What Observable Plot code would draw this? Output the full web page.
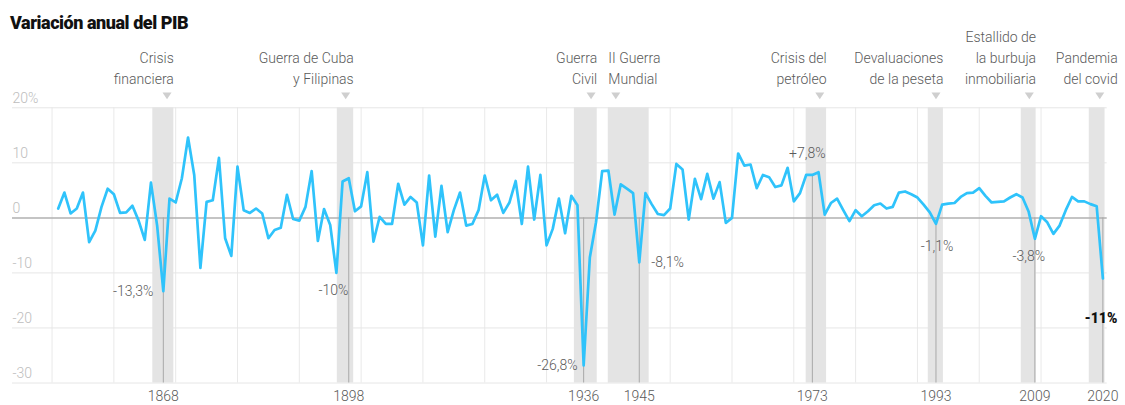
<!DOCTYPE html>
<html>
<head>
<meta charset="utf-8">
<script src="https://cdn.jsdelivr.net/npm/d3@7"></script>
<script src="https://cdn.jsdelivr.net/npm/@observablehq/plot@0.6"></script>
<style>
  html, body { margin: 0; padding: 0; background: #fff; }
  #wrap { position: relative; width: 1125px; height: 405px; overflow: hidden; }
  #title { position: absolute; left: 10px; top: 14px; font: 900 18px/1 Roboto, sans-serif; color: #111; letter-spacing: -0.45px; }
  #chart svg { display: block; }
</style>
</head>
<body>
<div id="wrap">
  <div id="chart"></div>
  <div id="title">Variación anual del PIB</div>
</div>
<script>
// ---- Data ----
const firstYear = 1851;
const growth = [
  1.7, 4.6, 0.8, 1.7, 4.6, -4.4, -2.3, 2.0, 5.3, 4.3,      // 1851-1860
  0.9, 1.0, 2.2, -0.5, -4.0, 6.4, -1.4, -13.3, 3.5, 2.8,   // 1861-1870
  7.2, 14.6, 7.8, -9.1, 2.9, 3.2, 10.9, -3.7, -6.9, 9.3,   // 1871-1880
  1.4, 0.9, 1.7, 0.8, -3.7, -2.2, -1.8, 4.2, -0.2, -0.5,   // 1881-1890
  2.0, 8.5, -4.2, 1.6, -1.3, -10.0, 6.6, 7.2, 1.2, 2.1,    // 1891-1900
  8.3, -4.3, 0.2, -1.1, -1.1, 6.2, 2.4, 3.8, 2.8, -5.0,    // 1901-1910
  7.7, -3.4, 5.8, -2.6, 1.4, 4.6, -1.4, -1.1, 1.4, 7.7,    // 1911-1920
  3.2, 4.2, 0.9, 2.8, 6.7, -1.1, 9.3, -0.3, 7.8, -5.0,     // 1921-1930
  -2.0, 3.5, -2.8, 4.0, 2.3, -26.8, -7.2, -0.8, 8.5, 8.6,  // 1931-1940
  0.6, 6.1, 5.3, 4.5, -8.1, 4.5, 2.5, 0.7, 0.5, 1.7,       // 1941-1950
  9.8, 8.8, -0.3, 7.1, 3.4, 8.0, 3.5, 6.5, -0.9, 0.0,      // 1951-1960
  11.7, 9.5, 9.7, 5.4, 7.8, 7.4, 5.6, 5.9, 9.1, 3.0,       // 1961-1970
  4.5, 7.8, 7.8, 8.3, 0.6, 2.7, 3.5, 1.4, -0.6, 1.4,       // 1971-1980
  0.3, 1.2, 2.3, 2.6, 1.7, 2.0, 4.6, 4.8, 4.3, 3.7,        // 1981-1990
  2.4, 1.0, -1.1, 2.4, 2.6, 2.7, 3.8, 4.5, 4.6, 5.4,       // 1991-2000
  4.0, 2.8, 2.9, 3.0, 3.7, 4.3, 3.7, 1.1, -3.8, 0.3,       // 2001-2010
  -0.8, -2.9, -1.4, 1.4, 3.8, 3.0, 3.0, 2.5, 2.1, -11.0    // 2011-2020
];

const tickYears = [1868, 1898, 1936, 1945, 1973, 1993, 2009, 2020];
const yTicks = [20, 10, 0, -10, -20, -30];
const yTickLabels = ["20%", "10", "0", "-10", "-20", "-30"];
const gridYears = [1850, 1860, 1870, 1880, 1890, 1900, 1910, 1920, 1930, 1940, 1950, 1960, 1970, 1980, 1990, 2000, 2010];

const eventNames = ["Crisis\nfinanciera", "Guerra de Cuba\ny Filipinas", "Guerra\nCivil", "II Guerra\nMundial",
  "Crisis del\npetróleo", "Devaluaciones\nde la peseta", "Estallido de\nla burbuja\ninmobiliaria", "Pandemia\ndel covid"];
const eventStart = [1866.3, 1896.15, 1934.5, 1940.0, 1972.0, 1991.75, 2006.8, 2017.8];
const eventEnd   = [1869.7, 1898.8, 1938.2, 1946.6, 1975.3, 1994.2, 2009.2, 2020.35];
const eventMarker = [1868.6, 1897.5, 1937.2, 1941.2, 1974.2, 1993.0, 2008.1, 2019.5];

const calloutYears = [1868, 1896, 1936, 1945, 1973, 1993, 2009, 2020];
const calloutTexts = ["-13,3%", "-10%", "-26,8%", "-8,1%", "+7,8%", "-1,1%", "-3,8%", "-11%"];

// ---- Derived tables ----
const data = growth.map((v, i) => ({year: firstYear + i, value: v}));
const valueOf = y => growth[y - firstYear];
const events = eventNames.map((name, i) => ({name, x1: eventStart[i], x2: eventEnd[i], marker: eventMarker[i], idx: i}));
const callouts = calloutYears.map((y, i) => ({year: y, value: valueOf(y), text: calloutTexts[i], idx: i}));
const tickRules = tickYears.map(y => ({year: y, top: calloutYears.includes(y) ? Math.max(0, valueOf(y)) : 0}));

// label layout (pixel offsets, anchors)
const calloutLayout = [
  {anchor: "end", dx: -10, dy: 0},
  {anchor: "middle", dx: -3, dy: 18},
  {anchor: "end", dx: -6, dy: 0},
  {anchor: "start", dx: 12, dy: 0},
  {anchor: "middle", dx: -5, dy: -21},
  {anchor: "middle", dx: 1, dy: 23},
  {anchor: "middle", dx: -6, dy: 18},
  {anchor: "middle", dx: -2, dy: 40}
];
// where each event text is anchored
const eventTextX = events.map((e, i) => i === 3 ? e.x1 : (i === 7 ? 2022.4 : e.x2));

const triDown = {
  draw(ctx, size) {
    const r = Math.sqrt(size / Math.PI);
    ctx.moveTo(-r, -0.75 * r);
    ctx.lineTo(r, -0.75 * r);
    ctx.lineTo(0, 0.75 * r);
    ctx.closePath();
  }
};

const labelFill = "#5a5a5a";
const font = "Roboto, sans-serif";

const calloutMarks = callouts.map((c, i) => Plot.text([c], {
  x: "year", y: "value", text: "text",
  textAnchor: calloutLayout[i].anchor, dx: calloutLayout[i].dx, dy: calloutLayout[i].dy,
  fill: i === 7 ? "#111" : labelFill, fontWeight: i === 7 ? 900 : 300, fontSize: 14
}));

const chart = Plot.plot({
  width: 1125,
  height: 405,
  marginLeft: 12,
  marginRight: 18.3,
  marginTop: 107.3,
  marginBottom: 22.5,
  x: {domain: [1843.6, 2020.7], axis: null},
  y: {domain: [-30, 20], axis: null},
  style: {fontFamily: font, fontSize: "14px", background: "#fff", overflow: "visible"},
  marks: [
    Plot.ruleX(gridYears, {x: d => d, y1: -30, y2: 20, stroke: "#e9e9e9", strokeWidth: 1}),
    Plot.ruleY(yTicks.filter(d => d !== 0), {y: d => d, stroke: "#e6e6e6", strokeWidth: 1}),
    Plot.rect(events, {x1: "x1", x2: "x2", y1: -30, y2: 20, fill: "#e4e4e4"}),
    Plot.ruleY([0], {stroke: "#b0b0b0", strokeWidth: 1.5}),
    Plot.ruleX(tickRules, {x: "year", y1: "top", y2: -30, stroke: "#a8a8a8", strokeWidth: 1}),
    Plot.line(data, {x: "year", y: "value", stroke: "#2fc3fb", strokeWidth: 2.7, strokeLinejoin: "round"}),
    // y tick labels
    Plot.text(yTicks, {frameAnchor: "left", y: d => d, text: (d, i) => yTickLabels[i], textAnchor: "start",
      dy: -9.5, fill: "#bdbdbd", fontSize: 14, fontWeight: 300}),
    // x tick labels
    Plot.text(tickYears, {x: d => d, y: -30, text: d => String(d), dy: 14, fill: labelFill, fontSize: 14, fontWeight: 300}),
    // event markers
    Plot.dot(events, {x: "marker", y: 20, dy: -12, symbol: triDown, r: 4.5, fill: "#cfcfcf", stroke: null}),
    // event texts (end anchored)
    Plot.text(events.filter(e => e.idx !== 3), {x: (e) => eventTextX[e.idx], y: 20, text: "name", textAnchor: "end",
      lineAnchor: "bottom", lineHeight: 1.5, dy: -24, fill: labelFill, fontSize: 14, fontWeight: 300}),
    Plot.text(events.filter(e => e.idx === 3), {x: (e) => eventTextX[e.idx], y: 20, text: "name", textAnchor: "start",
      lineAnchor: "bottom", lineHeight: 1.5, dy: -24, fill: labelFill, fontSize: 14, fontWeight: 300}),
    ...calloutMarks
  ]
});

document.getElementById("chart").appendChild(chart);
</script>
</body>
</html>
